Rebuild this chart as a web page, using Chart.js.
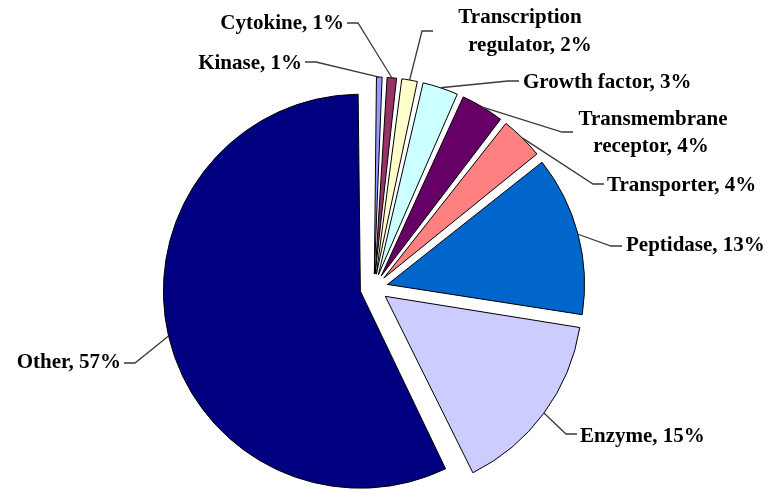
<!DOCTYPE html>
<html>
<head>
<meta charset="utf-8">
<script src="https://cdn.jsdelivr.net/npm/chart.js@4.4.1/dist/chart.umd.min.js"></script>
<style>
	html, body { margin: 0; padding: 0; background: #fff; }
	canvas { display: block; }
</style>
</head>
<body>
<canvas id="proteinClasses" width="769" height="491"></canvas>
<script>
var CATEGORIES = ['Kinase', 'Cytokine', 'Transcription regulator', 'Growth factor',
	'Transmembrane receptor', 'Transporter', 'Peptidase', 'Enzyme', 'Other'];
var SHARES = [0.8, 1.1, 1.6, 3.2, 3.8, 3.8, 13.2, 15.2, 57.3];
var SLICE_COLORS = ['#9999ff', '#993366', '#ffffcc', '#ccffff', '#660066',
	'#ff8080', '#0066cc', '#ccccff', '#000080'];

var PIE_RADIUS = 197;
var SLICE_SHIFT = 14; // explode distance in px (chart.js moves offset / 4)
var LABEL_FONT = 'bold 21px "Liberation Serif", "Times New Roman", serif';

// where each label sits and where its leader line touches it
var LABEL_LAYOUT = [
	{ tx: [302], ty: [64], align: 'right', lx: 305, ly: 62 },
	{ tx: [344], ty: [24], align: 'right', lx: 347, ly: 23 },
	{ tx: [520, 530], ty: [18, 46], align: 'center', lx: 433, ly: 31 },
	{ tx: [523], ty: [83], align: 'left', lx: 519, ly: 81 },
	{ tx: [653, 651], ty: [120, 147], align: 'center', lx: 573, ly: 132 },
	{ tx: [607], ty: [186], align: 'left', lx: 604, ly: 184 },
	{ tx: [626], ty: [246], align: 'left', lx: 622, ly: 246 },
	{ tx: [580], ty: [437], align: 'left', lx: 577, ly: 434 },
	{ tx: [121], ty: [363], align: 'right', lx: 124, ly: 363 }
];

function labelLines(i) {
	var text = CATEGORIES[i] + ', ' + Math.round(SHARES[i]) + '%';
	if (LABEL_LAYOUT[i].ty.length > 1) {
		var cut = text.indexOf(' ');
		return [text.slice(0, cut), text.slice(cut + 1)];
	}
	return [text];
}

// chart.js grows exploded slices by a bit; keep every slice at the same radius
var evenRadius = {
	id: 'evenRadius',
	beforeDatasetsDraw: function (chart) {
		chart.getDatasetMeta(0).data.forEach(function (arc) {
			var fix = 1 - Math.sin(Math.min(Math.PI, arc.circumference));
			arc.outerRadius = PIE_RADIUS - SLICE_SHIFT * fix;
		});
	}
};

var leaderLabels = {
	id: 'leaderLabels',
	afterDraw: function (chart) {
		var ctx = chart.ctx;
		ctx.save();
		ctx.font = LABEL_FONT;
		ctx.textBaseline = 'middle';
		chart.getDatasetMeta(0).data.forEach(function (arc, i) {
			var lay = LABEL_LAYOUT[i];
			var mid = (arc.startAngle + arc.endAngle) / 2;
			var px = arc.x + Math.cos(mid) * (PIE_RADIUS + SLICE_SHIFT);
			var py = arc.y + Math.sin(mid) * (PIE_RADIUS + SLICE_SHIFT);
			var elbowX = lay.align === 'right' ? lay.lx + 11 : lay.lx - 11;

			ctx.strokeStyle = '#3a3a3a';
			ctx.lineWidth = 1.3;
			ctx.beginPath();
			ctx.moveTo(px, py);
			ctx.lineTo(elbowX, lay.ly);
			ctx.lineTo(lay.lx, lay.ly);
			ctx.stroke();

			ctx.fillStyle = '#000';
			ctx.textAlign = lay.align;
			labelLines(i).forEach(function (line, k) {
				ctx.fillText(line, lay.tx[k], lay.ty[k]);
			});
		});
		ctx.restore();
	}
};

var proteinClassesData = {
	labels: CATEGORIES,
	datasets: [{
		data: SHARES,
		backgroundColor: SLICE_COLORS,
		borderColor: '#000',
		borderWidth: 1,
		offset: SLICE_SHIFT * 4,
		hoverOffset: 0
	}]
};

var proteinClassesOptions = {
	responsive: false,
	animation: false,
	devicePixelRatio: 1,
	radius: PIE_RADIUS,
	layout: {
		padding: { top: 85, right: 21, bottom: 0, left: 0 }
	},
	plugins: {
		legend: { display: false },
		tooltip: { enabled: false }
	}
};

var proteinClassesChart = new Chart(
	document.getElementById('proteinClasses'),
	{
		type: 'pie',
		data: proteinClassesData,
		options: proteinClassesOptions,
		plugins: [evenRadius, leaderLabels]
	}
);
</script>
</body>
</html>
